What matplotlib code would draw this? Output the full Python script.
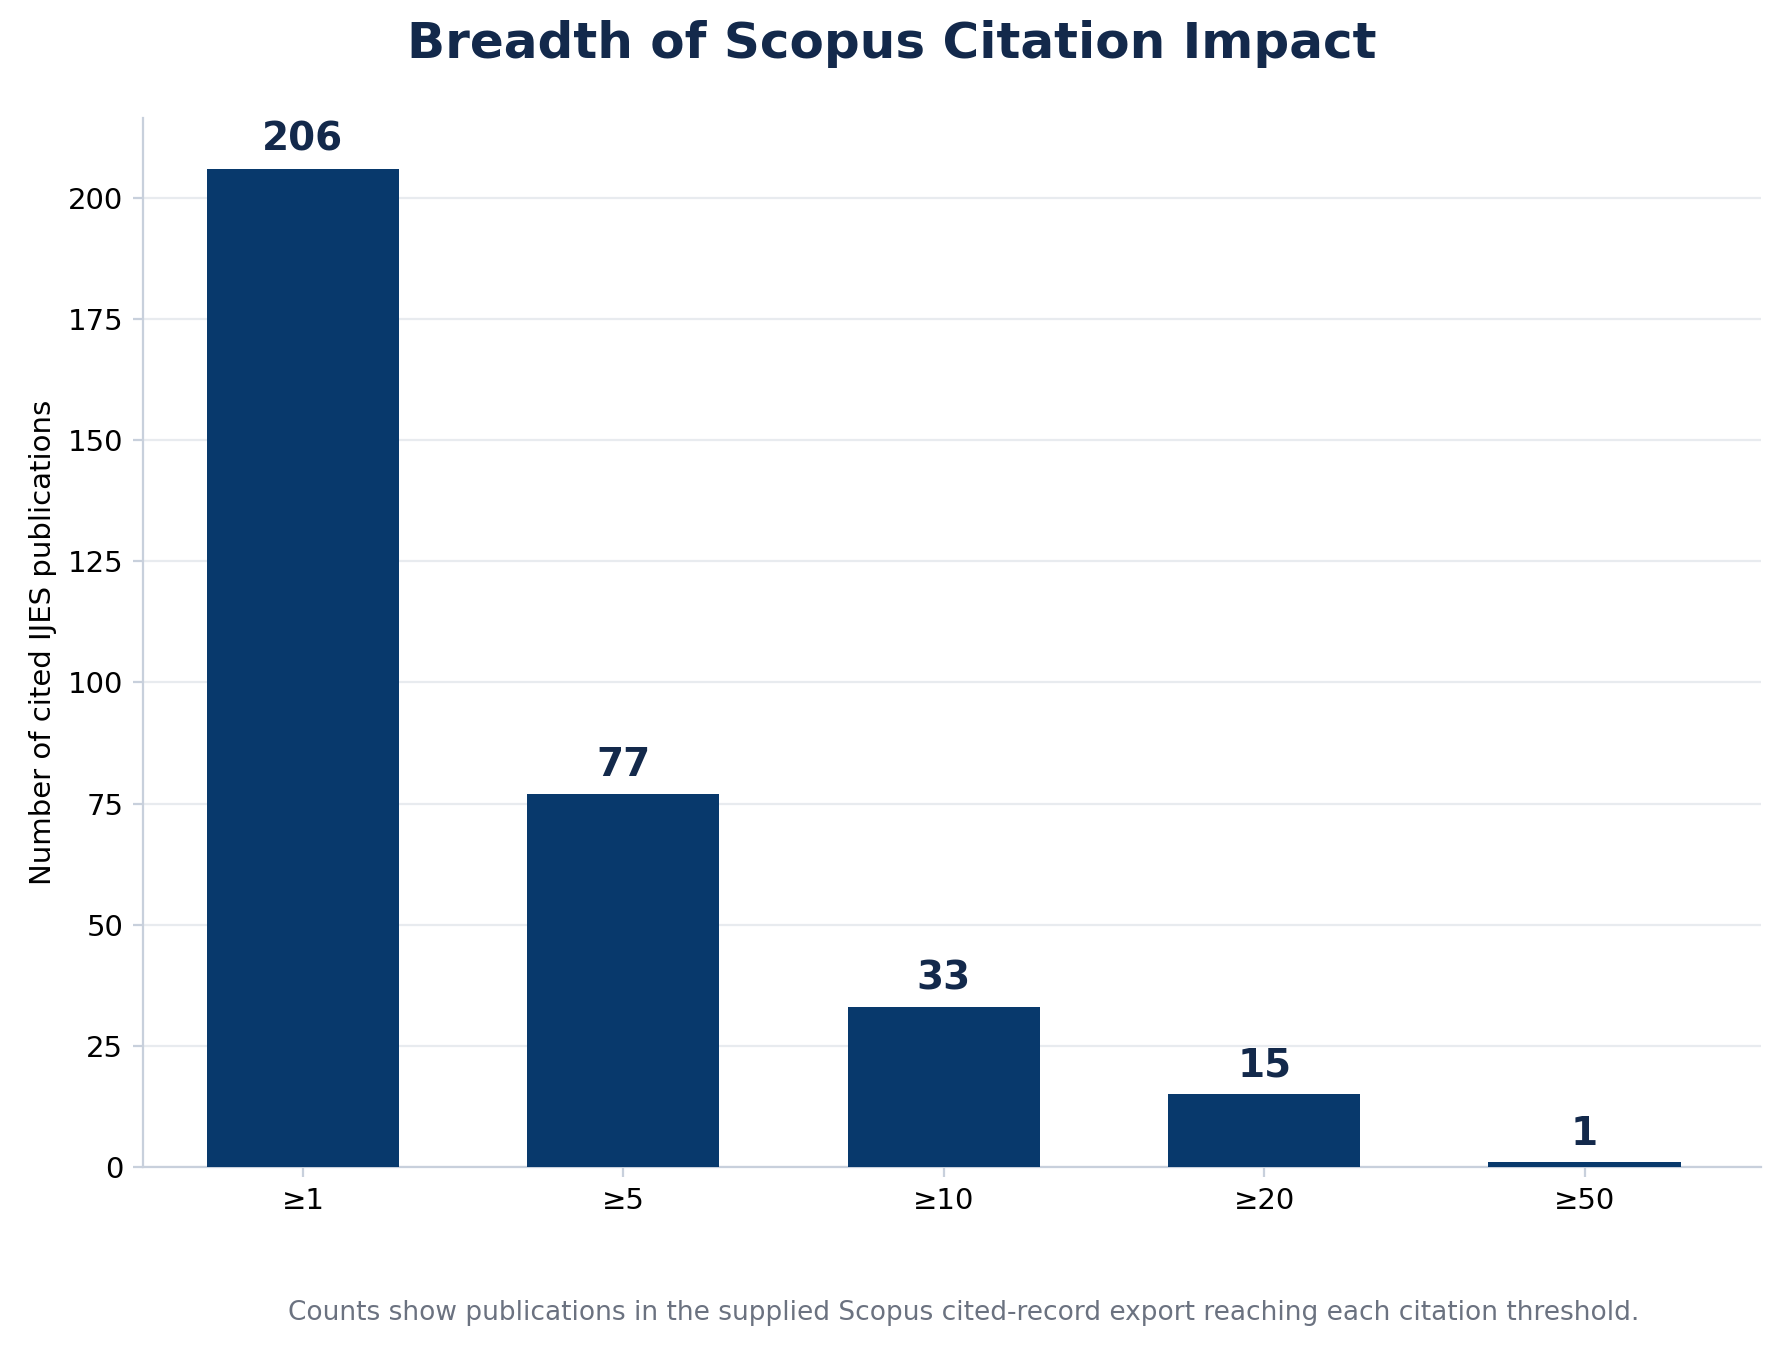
import matplotlib.pyplot as plt

thresholds = ['≥1', '≥5', '≥10', '≥20', '≥50']
counts = [206, 77, 33, 15, 1]

BAR_COLOR = '#08396c'
TEXT_COLOR = '#13294b'

fig = plt.figure(figsize=(8.92, 6.77), dpi=200)
ax = fig.add_axes([0.08, 0.138, 0.907, 0.775])

bars = ax.bar(range(len(counts)), counts, width=0.6, color=BAR_COLOR, zorder=3)
for b, v in zip(bars, counts):
    ax.text(b.get_x() + b.get_width() / 2, v + 2, str(v), ha='center', va='bottom',
            fontsize=14, fontweight='bold', color=TEXT_COLOR)

ax.set_xticks(range(len(counts)))
ax.set_xticklabels(thresholds, fontsize=10.5)
ax.set_xlim(-0.5, 4.55)
ax.set_ylim(0, 216.5)
ax.set_yticks(range(0, 201, 25))
ax.tick_params(axis='y', labelsize=10.5, color='#c8d0dc')
ax.tick_params(axis='x', color='#c8d0dc')
ax.set_ylabel('Number of cited IJES publications', fontsize=10.5)
ax.grid(axis='y', color='#e8ebef', linewidth=0.8, zorder=0)
for s in ['top', 'right']:
    ax.spines[s].set_visible(False)
for s in ['left', 'bottom']:
    ax.spines[s].set_color('#c8d0dc')

fig.suptitle('Breadth of Scopus Citation Impact', fontsize=18, fontweight='bold',
             color=TEXT_COLOR, y=0.985)
fig.text(0.54, 0.025, 'Counts show publications in the supplied Scopus cited-record export reaching each citation threshold.',
         ha='center', fontsize=9.5, color='#6b7280')

fig.savefig('out.png', dpi=200)
